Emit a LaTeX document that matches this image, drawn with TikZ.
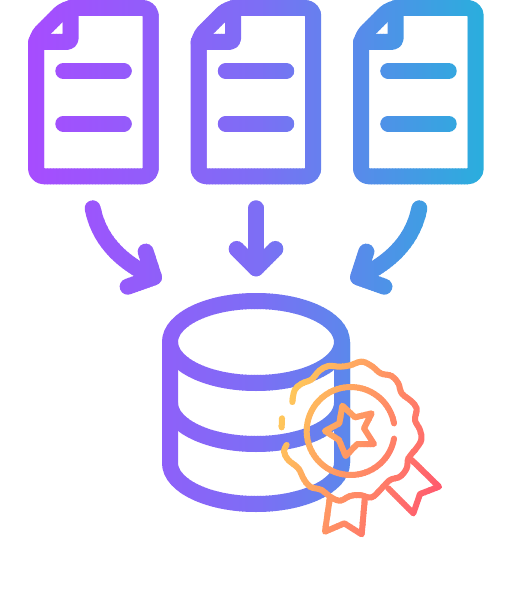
\documentclass[tikz,border=0pt]{standalone}
\usetikzlibrary{calc}
\tikzset{
  thick stroke/.style={line width=16pt,line cap=round,line join=round},
  thin stroke/.style={line width=6pt,line cap=round,line join=round},
}
\newcommand{\docicon}[1]{%
  \begin{scope}[shift={(#1,0)}]
    \draw[thick stroke,rounded corners=8pt] (65.4,8) -- (150.7,8) -- (150.7,176.3) -- (36,176.3) -- (36,37.4) -- cycle;
    \draw[thick stroke,rounded corners=4pt] (70.7,8) -- (70.7,42) -- (36,42);
    \draw[thick stroke] (63.3,71) -- (123.7,71);
    \draw[thick stroke] (63.3,123.7) -- (123.7,123.7);
  \end{scope}}
\newcommand{\coolpaths}{%
  \docicon{0}\docicon{162.5}\docicon{325}%
  \begin{scope}[shift={(70,190)},x=0.33333pt,y=-0.33333pt]
    \draw[thick stroke] (68,55) .. controls (85,140) and (140,210) .. (250,262);
    \draw[thick stroke] (227,185) -- (252,262) -- (173,290);
    \draw[thick stroke] (558,55) -- (558,235);
    \draw[thick stroke] (500,177) -- (558,235) -- (616,177);
    \draw[thick stroke] (1048,55) .. controls (1031,140) and (976,210) .. (866,262);
    \draw[thick stroke] (889,185) -- (864,262) -- (943,290);
  \end{scope}
  \draw[thick stroke] (256,342) ellipse [x radius=86,y radius=41];
  \draw[thick stroke] (170,342) -- (170,463) arc[start angle=180,end angle=0,x radius=86,y radius=41] -- (342,342);
  \draw[thick stroke] (170,403) arc[start angle=180,end angle=0,x radius=86,y radius=41];
}
\newcommand{\warmpaths}{%
  \begin{scope}[shift={(260,340)},x=0.33333pt,y=-0.33333pt]
    \draw[thin stroke] plot[smooth,tension=0.6] coordinates {(97,186) (104,150) (125,131) (155,118) (178,92) (205,78) (240,80) (270,76) (305,65) (335,78) (362,100) (395,108) (415,130) (425,160) (452,182) (470,205) (465,240) (480,270) (484,300) (465,330) (445,355) (440,385) (420,410) (390,420) (365,445) (335,472) (300,465) (270,468) (240,482) (210,470) (185,450) (150,440) (130,415) (115,385) (85,360) (72,335) (80,315)};
    \draw[thin stroke] (66,235) -- (65,262);
    \draw[thin stroke] (210,470) -- (195,575) -- (253,550) -- (305,583) -- (315,470);
    \draw[thin stroke] (385,445) -- (460,520) -- (480,462) -- (537,440) -- (455,360);
    \draw[thin stroke] (247,197) -- (285,232) -- (335,220) -- (312,265) -- (342,312) -- (292,312) -- (257,348) -- (237,300) -- (195,273) -- (238,250) -- cycle;
  \end{scope}
  \draw[thin stroke] (350.7,431) ++(10:44) arc[start angle=10,end angle=350,radius=44];
}
\begin{document}
\begin{tikzpicture}[x=1pt,y=-1pt]
  \useasboundingbox[fill=white] (0,0) rectangle (512,601);
  % cool horizontal gradient: stops at x=20, 256, 492
  \foreach \sx in {20,23,...,492}{
    \pgfmathsetmacro{\tt}{\sx<256 ? (\sx-20)/236 : (\sx-256)/236}
    \pgfmathsetmacro{\rr}{(\sx<256 ? 168+(125-168)*\tt : 125+(38-125)*\tt)/255}
    \pgfmathsetmacro{\gg}{(\sx<256 ? 75+(110-75)*\tt : 110+(177-110)*\tt)/255}
    \pgfmathsetmacro{\bb}{(\sx<256 ? 255+(245-255)*\tt : 245+(220-245)*\tt)/255}
    \definecolor{stripcol}{rgb}{\rr,\gg,\bb}
    \begin{scope}[color=stripcol]
      \clip (\sx,-10) rectangle ++(3.6,620);
      \coolpaths
    \end{scope}
  }
  % warm gradient, running towards the lower right
  \foreach \ss in {-110,-107,...,130}{
    \pgfmathsetmacro{\gv}{155-0.626*\ss}
    \pgfmathsetmacro{\gg}{min(210,max(85,\gv))/255}
    \pgfmathsetmacro{\bb}{(90+(205-\gg*255)*20/115)/255}
    \definecolor{stripcol}{rgb}{1,\gg,\bb}
    \pgfmathsetmacro{\ax}{350+0.929*\ss+0.37*220}
    \pgfmathsetmacro{\ay}{430+0.37*\ss-0.929*220}
    \pgfmathsetmacro{\bx}{350+0.929*\ss-0.37*220}
    \pgfmathsetmacro{\by}{430+0.37*\ss+0.929*220}
    \begin{scope}[color=stripcol]
      \clip (\ax,\ay) -- (\bx,\by) -- ++(3.34,1.33) -- ($(\ax,\ay)+(3.34,1.33)$) -- cycle;
      \warmpaths
    \end{scope}
  }
\end{tikzpicture}
\end{document}
